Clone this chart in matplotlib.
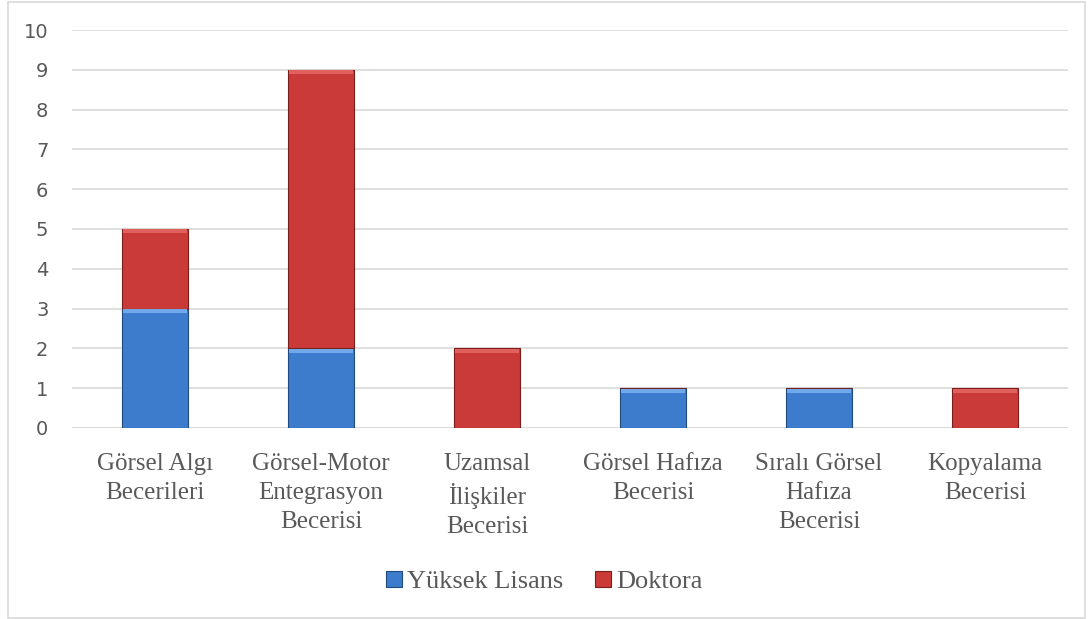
import matplotlib.pyplot as plt
import numpy as np
from matplotlib.patches import Rectangle

# categories and values
categories = ["Görsel Algı\nBecerileri", "Görsel-Motor\nEntegrasyon\nBecerisi",
              "Uzamsal\nİlişkiler\nBecerisi", "Görsel Hafıza\nBecerisi",
              "Sıralı Görsel\nHafıza\nBecerisi", "Kopyalama\nBecerisi"]
yuksek_lisans = [3, 2, 0, 1, 1, 0]
doktora = [2, 7, 2, 0, 0, 1]
series_names = ["Yüksek Lisans", "Doktora"]
y_ticks = list(range(0, 11))

blue = "#3d7ccc"
red = "#c93a38"
serif = "Liberation Serif"

fig = plt.figure(figsize=(10.88, 6.19), dpi=100)
ax = fig.add_axes([0.0662, 0.3086, 0.9154, 0.6429])

x = np.arange(len(categories))
w = 0.4
b1 = ax.bar(x, yuksek_lisans, w, color=blue, edgecolor="#1f4a80", linewidth=0.8,
            label=series_names[0], zorder=3)
b2 = ax.bar(x, doktora, w, bottom=yuksek_lisans, color=red, edgecolor="#7a1d1b",
            linewidth=0.8, label=series_names[1], zorder=3)

# lighter top strip on each segment to mimic the bevel
for vals, bottoms, light in [(yuksek_lisans, [0] * 6, "#6fa9ea"),
                             (doktora, yuksek_lisans, "#e0605d")]:
    for xi, v, b in zip(x, vals, bottoms):
        if v > 0:
            ax.bar(xi, 0.1, w * 0.96, bottom=b + v - 0.11, color=light,
                   linewidth=0, zorder=4)

ax.set_ylim(0, 10)
ax.set_xlim(-0.5, len(categories) - 0.5)
ax.set_yticks(y_ticks)
ax.yaxis.grid(True, color="#d9d9d9", linewidth=1.2, zorder=0)
ax.set_axisbelow(True)
for s in ax.spines.values():
    s.set_visible(False)
ax.tick_params(axis="y", length=0, pad=17, labelsize=14, labelcolor="#595959")
ax.tick_params(axis="x", length=0, pad=18)
ax.set_xticks(x)
ax.set_xticklabels(categories, fontfamily=serif, fontsize=18, color="#595959",
                   linespacing=1.4)
ax.axhline(0, color="#d9d9d9", linewidth=1.2, zorder=1)

leg = fig.legend(handles=[b1, b2], labels=series_names, loc="center",
                 bbox_to_anchor=(0.5, 0.06), ncol=2, frameon=False,
                 prop={"family": serif, "size": 19}, handlelength=0.6,
                 handleheight=0.6, handletextpad=0.2, columnspacing=1.2)
for t in leg.get_texts():
    t.set_color("#595959")

fig.patches.append(Rectangle((0.007, 0.002), 0.99, 0.994, transform=fig.transFigure,
                             fill=False, edgecolor="#d9d9d9", linewidth=1.2))

fig.savefig("out.png", dpi=100)
